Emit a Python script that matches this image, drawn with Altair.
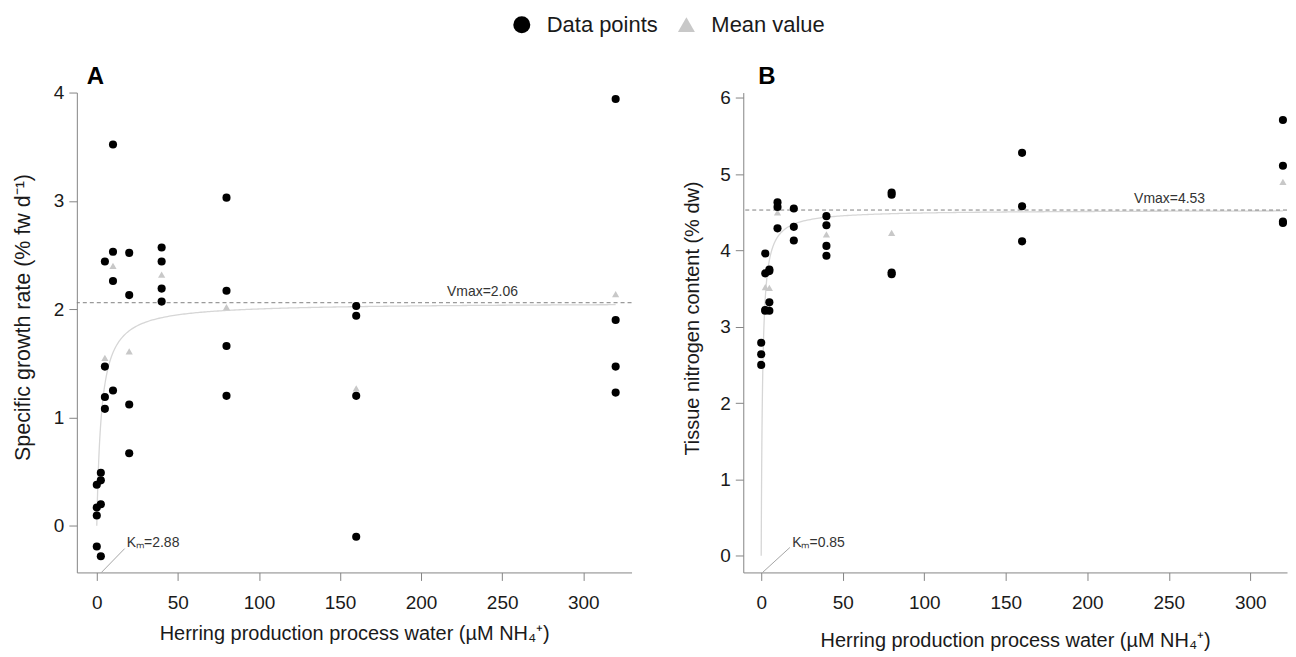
import altair as alt
import numpy as np
import pandas as pd

FONT = "Liberation Sans"

# ---------------- data ----------------
conc = [0, 2.5, 5, 10, 20, 40, 80, 160, 320]

# Panel A: specific growth rate (% fw d-1)
a_pts_x = [0, 0, 0, 0,
           2.5, 2.5, 2.5, 2.5,
           5, 5, 5, 5,
           10, 10, 10, 10,
           20, 20, 20, 20,
           40, 40, 40, 40,
           80, 80, 80, 80,
           160, 160, 160, 160,
           320, 320, 320, 320]
a_pts_y = [0.38, 0.17, 0.095, -0.19,
           0.49, 0.42, 0.20, -0.28,
           2.44, 1.47, 1.19, 1.08,
           3.52, 2.53, 2.26, 1.25,
           2.52, 2.13, 1.12, 0.67,
           2.57, 2.44, 2.19, 2.07,
           3.03, 2.17, 1.66, 1.20,
           2.03, 1.94, 1.20, -0.10,
           3.94, 1.90, 1.47, 1.23]
a_mean_y = [0.11, 0.21, 1.55, 2.40, 1.61, 2.32, 2.02, 1.27, 2.14]
a_vmax = 2.06
a_km = 2.88

# Panel B: tissue nitrogen content (% dw)
b_pts_x = [0, 0, 0,
           2.5, 2.5, 2.5, 2.5,
           5, 5, 5, 5,
           10, 10, 10,
           20, 20, 20,
           40, 40, 40, 40,
           80, 80, 80, 80,
           160, 160, 160,
           320, 320, 320, 320]
b_pts_y = [2.79, 2.64, 2.50,
           3.96, 3.70, 3.22, 3.21,
           3.75, 3.73, 3.32, 3.21,
           4.63, 4.57, 4.29,
           4.55, 4.31, 4.13,
           4.45, 4.33, 4.06, 3.93,
           4.76, 4.73, 3.71, 3.69,
           5.28, 4.58, 4.12,
           5.71, 5.11, 4.38, 4.36]
b_mean_y = [2.64, 3.52, 3.51, 4.50, 4.33, 4.21, 4.23, 4.60, 4.90]
b_vmax = 4.53
b_km = 0.85

x_ticks = [0, 50, 100, 150, 200, 250, 300]
a_y_ticks = [0, 1, 2, 3, 4]
b_y_ticks = [0, 1, 2, 3, 4, 5, 6]

x_title = "Herring production process water (µM NH₄⁺)"
a_y_title = "Specific growth rate (% fw d⁻¹)"
b_y_title = "Tissue nitrogen content (% dw)"
legend_labels = ["Data points", "Mean value"]

# sample positions for the fitted Michaelis-Menten curve (Vmax, Km above)
curve_x = np.concatenate([np.linspace(0, 10, 201), np.linspace(10.5, 320, 300)])

LEGEND = alt.Legend(orient="none", legendX=435, legendY=-79,
                    direction="horizontal", title=None,
                    labelFontSize=22, labelFont=FONT, labelColor="#1a1a1a",
                    symbolSize=290, labelOffset=14, columnPadding=17,
                    symbolStrokeWidth=0)


def panel(letter, pts_x, pts_y, mean_y, vmax, km, xdom, ydom, yticks, ytitle,
          width, height, ytitle_y, ytitle_pad, ytitle_size, xtitle_pad,
          title_dx, title_offset, vmax_label_pos, km_label_pos, km_line_end):
    xs = alt.Scale(domain=xdom, nice=False, zero=False)
    ys = alt.Scale(domain=ydom, nice=False, zero=False)
    xax = alt.Axis(values=x_ticks, title=x_title, titlePadding=xtitle_pad,
                   labelPadding=13)
    yax = alt.Axis(values=yticks, title=ytitle, titlePadding=ytitle_pad,
                   titleY=ytitle_y, titleFontSize=ytitle_size, labelPadding=5)

    def X(f):
        return alt.X(f, type="quantitative", scale=xs, axis=xax)

    def Y(f):
        return alt.Y(f, type="quantitative", scale=ys, axis=yax)

    shape = alt.Shape("type:N", scale=alt.Scale(domain=legend_labels,
                                                 range=["circle", "triangle-up"]),
                      legend=LEGEND)
    color = alt.Color("type:N", scale=alt.Scale(domain=legend_labels,
                                                 range=["#000000", "#c8c8c8"]),
                      legend=LEGEND)

    pts = pd.DataFrame({"x": pts_x, "y": pts_y, "type": legend_labels[0]})
    means = pd.DataFrame({"x": conc, "y": mean_y, "type": legend_labels[1]})
    curve = pd.DataFrame({"x": curve_x, "y": vmax * curve_x / (km + curve_x)})
    vline = pd.DataFrame({"y": [vmax]})
    kline = pd.DataFrame({"x": [km], "y": [ydom[0]],
                          "x2": [km_line_end[0]], "y2": [km_line_end[1]]})
    vtext = pd.DataFrame({"x": [vmax_label_pos[0]], "y": [vmax_label_pos[1]],
                          "t": [f"Vmax={vmax:.2f}"]})
    ktext = pd.DataFrame({"x": [km_label_pos[0]], "y": [km_label_pos[1]],
                          "t": [f"Kₘ={km:.2f}"]})

    curve_l = alt.Chart(curve).mark_line(color="#d6d6d6", strokeWidth=1.3).encode(
        x=X("x"), y=Y("y"))
    vline_l = alt.Chart(vline).mark_rule(color="#808080", strokeWidth=1,
                                         strokeDash=[4, 3]).encode(y=Y("y"))
    kline_l = alt.Chart(kline).mark_rule(color="#9a9a9a", strokeWidth=0.9).encode(
        x=X("x"), y=Y("y"), x2=alt.X2("x2"), y2=alt.Y2("y2"))
    vtext_l = alt.Chart(vtext).mark_text(align="left", baseline="middle",
                                         fontSize=14, font=FONT,
                                         color="#333333").encode(
        x=X("x"), y=Y("y"), text="t:N")
    ktext_l = alt.Chart(ktext).mark_text(align="left", baseline="middle",
                                         fontSize=14, font=FONT,
                                         color="#333333").encode(
        x=X("x"), y=Y("y"), text="t:N")
    mean_l = alt.Chart(means).mark_point(filled=True, opacity=1, size=52).encode(
        x=X("x"), y=Y("y"), shape=shape, color=color)
    pts_l = alt.Chart(pts).mark_point(filled=True, opacity=1, size=66).encode(
        x=X("x"), y=Y("y"), shape=shape, color=color)

    return alt.layer(curve_l, vline_l, kline_l, vtext_l, ktext_l, mean_l, pts_l).properties(
        width=width, height=height,
        title=alt.TitleParams(letter, anchor="start", frame="group", dx=title_dx,
                              offset=title_offset, baseline="alphabetic",
                              fontSize=24, fontWeight="bold", font=FONT,
                              color="#000000"))


panel_a = panel("A", a_pts_x, a_pts_y, a_mean_y, a_vmax, a_km,
                xdom=[-12.3, 329.8], ydom=[-0.43, 4.0], yticks=a_y_ticks,
                ytitle=a_y_title, width=556, height=481, ytitle_y=225,
                ytitle_pad=19, ytitle_size=21.5, xtitle_pad=11,
                title_dx=10, title_offset=-24,
                vmax_label_pos=(216, 2.16), km_label_pos=(18.5, -0.16),
                km_line_end=(17.2, -0.21))

panel_b = panel("B", b_pts_x, b_pts_y, b_mean_y, b_vmax, b_km,
                xdom=[-11.0, 322.5], ydom=[-0.22, 6.07], yticks=b_y_ticks,
                ytitle=b_y_title, width=545, height=481, ytitle_y=226,
                ytitle_pad=17, ytitle_size=20, xtitle_pad=18,
                title_dx=15, title_offset=-19,
                vmax_label_pos=(228.7, 4.67), km_label_pos=(19.0, 0.16),
                km_line_end=(17.6, 0.107))

chart = alt.hconcat(panel_a, panel_b, spacing=112, bounds="flush").properties(
    padding={"left": 4, "top": 5, "right": 0, "bottom": 0}
).configure(font=FONT).configure_view(strokeWidth=0).configure_axis(
    grid=False, domainColor="#858585", tickColor="#858585", tickSize=8,
    domainWidth=1, tickWidth=1,
    labelFont=FONT, titleFont=FONT, labelFontSize=19, titleFontSize=20,
    labelColor="#1a1a1a", titleColor="#1a1a1a", titleFontWeight="normal"
)

chart.save("out.html", embed_options={"renderer": "svg", "actions": False})
